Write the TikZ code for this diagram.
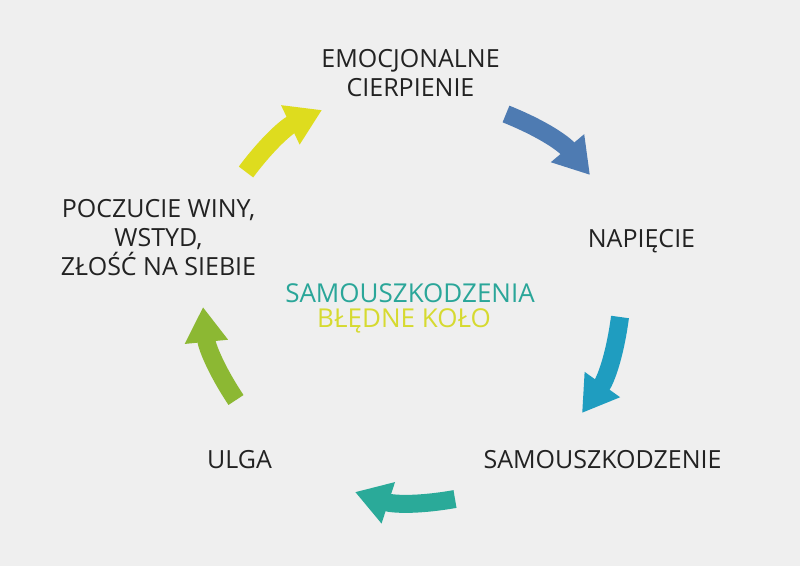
\documentclass[tikz,border=0pt]{standalone}
\usepackage{fontspec}
\setmainfont{Open Sans}
\usetikzlibrary{arrows.meta,positioning}
\definecolor{bgray}{HTML}{EFEFEF}
\definecolor{ink}{HTML}{222222}
\definecolor{cyyellow}{HTML}{DEDC1E}
\definecolor{cyblue}{HTML}{4E7BB2}
\definecolor{cycyan}{HTML}{1F9DC0}
\definecolor{cyteal}{HTML}{2AAA99}
\definecolor{cygreen}{HTML}{8CB833}
\definecolor{titteal}{HTML}{2AA699}
\definecolor{tityellow}{HTML}{D6DA30}
\tikzset{
  stage/.style={text=ink,font=\fontsize{25}{29}\selectfont,align=center,anchor=base,inner sep=0pt},
  cyc/.style={line width=18pt,-{Triangle[length=35pt,width=41pt]},bend left=14},
  title/.style={font=\fontsize{26}{29}\selectfont,anchor=base,inner sep=0pt}
}
\begin{document}
\begin{tikzpicture}[x=1pt,y=1pt]
  \fill[bgray] (0,0) rectangle (800,566);
  \useasboundingbox (0,0) rectangle (800,566);

  % stages of the cycle (base = last line)
  \node [stage] (emo) at (410.5,469) {EMOCJONALNE\\CIERPIENIE};
  \node [stage] (nap) at (641.5,319) {NAPIĘCIE};
  \node [stage] (sam) at (602.5,98) {SAMOUSZKODZENIE};
  \node [stage] (ulga) at (239.5,98) {ULGA};
  \node [stage] (wina) at (158.5,291) {POCZUCIE WINY,\\WSTYD,\\ZŁOŚĆ NA SIEBIE};

  % title in the middle
  \node [title,text=titteal] (tit1) at (410,264) {SAMOUSZKODZENIA};
  \node [title,text=tityellow] (tit2) at (404,239) {BŁĘDNE KOŁO};

  % arrow ends
  \coordinate (y1) at (246,394);
  \coordinate (y2) at (322,456);
  \coordinate (b1) at (506,452);
  \coordinate (b2) at (590,391);
  \coordinate (c1) at (620,249);
  \coordinate (c2) at (582,153);
  \coordinate (t1) at (455,67);
  \coordinate (t2) at (355,74);
  \coordinate (g1) at (236,166);
  \coordinate (g2) at (203,259);

  \draw[cyc,cyyellow] (y1) to (y2);
  \draw[cyc,cyblue] (b1) to (b2);
  \draw[cyc,cycyan] (c1) to (c2);
  \draw[cyc,cyteal] (t1) to (t2);
  \draw[cyc,cygreen] (g1) to (g2);
\end{tikzpicture}
\end{document}
